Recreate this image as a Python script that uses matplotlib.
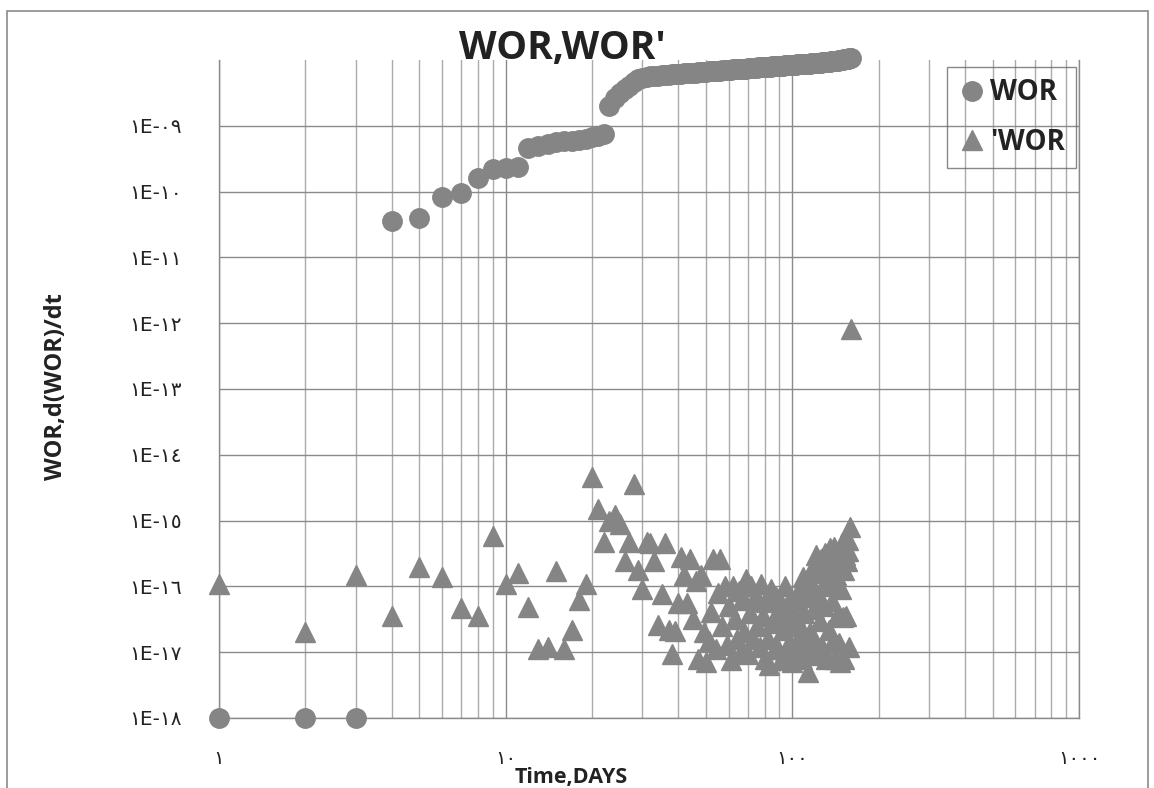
import matplotlib
matplotlib.use("Agg")
import matplotlib.pyplot as plt
from matplotlib.ticker import FixedLocator, FixedFormatter, NullFormatter
from matplotlib.patches import Rectangle

# ---- data ----
days = list(range(1, 161))

wor = [1e-18, 1e-18, 1e-18, 3.6e-11, 4.0e-11, 8.3e-11, 9.6e-11, 1.6e-10, 2.2e-10, 2.3e-10,
       2.4e-10, 4.6e-10, 5.0e-10, 5.3e-10, 5.7e-10, 5.9e-10, 5.9e-10, 6.1e-10, 6.4e-10, 6.8e-10,
       7.0e-10, 7.6e-10, 2.0e-9, 2.6e-9, 3.1e-9, 3.6e-9, 4.0e-9, 4.6e-9, 5.1e-9, 5.4e-9,
       5.6e-9, 5.7e-9, 5.8e-9, 5.8e-9, 5.9e-9, 6.0e-9, 6.0e-9, 6.1e-9, 6.1e-9, 6.2e-9,
       6.2e-9, 6.3e-9, 6.3e-9, 6.3e-9, 6.4e-9, 6.4e-9, 6.5e-9, 6.5e-9, 6.6e-9, 6.6e-9,
       6.7e-9, 6.7e-9, 6.8e-9, 6.8e-9, 6.9e-9, 6.9e-9, 7.0e-9, 7.0e-9, 7.0e-9, 7.1e-9,
       7.1e-9, 7.2e-9, 7.2e-9, 7.2e-9, 7.3e-9, 7.3e-9, 7.3e-9, 7.4e-9, 7.4e-9, 7.5e-9,
       7.5e-9, 7.5e-9, 7.6e-9, 7.6e-9, 7.6e-9, 7.7e-9, 7.7e-9, 7.7e-9, 7.8e-9, 7.8e-9,
       7.8e-9, 7.9e-9, 7.9e-9, 7.9e-9, 8.0e-9, 8.0e-9, 8.0e-9, 8.1e-9, 8.1e-9, 8.1e-9,
       8.2e-9, 8.2e-9, 8.2e-9, 8.3e-9, 8.3e-9, 8.3e-9, 8.3e-9, 8.4e-9, 8.4e-9, 8.4e-9,
       8.5e-9, 8.5e-9, 8.5e-9, 8.6e-9, 8.6e-9, 8.6e-9, 8.6e-9, 8.7e-9, 8.7e-9, 8.7e-9,
       8.7e-9, 8.8e-9, 8.8e-9, 8.8e-9, 8.8e-9, 8.9e-9, 8.9e-9, 8.9e-9, 8.9e-9, 9.0e-9,
       9.0e-9, 9.0e-9, 9.0e-9, 9.1e-9, 9.1e-9, 9.1e-9, 9.2e-9, 9.2e-9, 9.2e-9, 9.3e-9,
       9.3e-9, 9.3e-9, 9.4e-9, 9.4e-9, 9.4e-9, 9.5e-9, 9.5e-9, 9.6e-9, 9.6e-9, 9.6e-9,
       9.7e-9, 9.7e-9, 9.8e-9, 9.8e-9, 9.9e-9, 9.9e-9, 1.0e-8, 1.0e-8, 1.01e-8, 1.01e-8,
       1.02e-8, 1.02e-8, 1.03e-8, 1.03e-8, 1.04e-8, 1.05e-8, 1.05e-8, 1.06e-8, 1.07e-8, 1.08e-8]

wor_deriv = [1.1e-16, 2.0e-17, 1.5e-16, 3.5e-17, 2.0e-16, 1.4e-16, 4.7e-17, 3.6e-17, 5.9e-16, 1.1e-16,
             1.6e-16, 4.8e-17, 1.1e-17, 1.2e-17, 1.7e-16, 1.1e-17, 2.2e-17, 6.3e-17, 1.1e-16, 4.6e-15,
             1.5e-15, 4.8e-16, 1.0e-15, 1.2e-15, 9.0e-16, 2.4e-16, 4.7e-16, 3.6e-15, 1.8e-16, 9.0e-17,
             4.8e-16, 4.6e-16, 2.4e-16, 2.6e-17, 7.6e-17, 4.5e-16, 2.2e-17, 9.3e-18, 2.1e-17, 5.5e-17,
             2.8e-16, 1.5e-16, 5.5e-17, 2.6e-16, 3.2e-17, 1.2e-16, 8.0e-18, 1.5e-16, 2.0e-17, 7.0e-18,
             1.5e-17, 4.1e-17, 2.6e-16, 1.1e-17, 8.0e-17, 2.6e-16, 2.5e-17, 1.0e-16, 1.3e-17, 5.0e-17,
             7.5e-18, 1.0e-16, 3.2e-17, 1.6e-17, 8.5e-17, 1.0e-17, 6.3e-17, 2.0e-17, 1.3e-16, 9.3e-18,
             4.0e-17, 1.0e-16, 1.6e-17, 7.0e-17, 2.5e-17, 6.0e-17, 1.2e-17, 1.1e-16, 3.5e-17, 8.0e-18,
             5.7e-17, 1.6e-17, 6.3e-18, 9.0e-17, 2.8e-17, 3.2e-17, 1.1e-17, 7.0e-17, 1.1e-17, 4.5e-17,
             7.5e-18, 5.3e-17, 2.2e-17, 1.0e-16, 8.0e-18, 3.5e-17, 1.4e-17, 6.5e-17, 2.5e-17, 7.0e-18,
             1.2e-17, 3.5e-17, 9.0e-18, 6.0e-17, 1.5e-17, 2.5e-17, 1.0e-16, 8.0e-18, 1.4e-16, 4.0e-17,
             1.2e-17, 7.0e-17, 5.0e-18, 1.3e-16, 2.0e-17, 9.0e-17, 1.0e-17, 2.0e-16, 4.5e-17, 1.5e-17,
             3.0e-16, 7.0e-17, 9.0e-18, 1.6e-16, 3.0e-17, 2.6e-16, 1.2e-17, 1.0e-16, 5.0e-17, 3.2e-16,
             8.0e-18, 1.8e-16, 2.4e-16, 2.2e-17, 3.8e-16, 1.1e-16, 1.4e-17, 6.0e-17, 2.6e-16, 4.0e-16,
             8.0e-18, 1.5e-16, 3.5e-17, 3.0e-16, 1.4e-17, 2.2e-16, 7.0e-18, 9.0e-17, 4.5e-16, 3.4e-17,
             1.8e-16, 8.0e-18, 3.0e-16, 3.5e-17, 2.4e-16, 3.4e-16, 5.1e-16, 1.2e-17, 7.9e-16, 8.1e-13]

x_ticks = [1, 10, 100, 1000]
x_tick_labels = ["١", "١٠", "١٠٠", "١٠٠٠"]
y_ticks = [1e-18, 1e-17, 1e-16, 1e-15, 1e-14, 1e-13, 1e-12, 1e-11, 1e-10, 1e-9]
y_tick_labels = ["١E-١٨", "١E-١٧", "١E-١٦", "١E-١٥", "١E-١٤",
                 "١E-١٣", "١E-١٢", "١E-١١", "١E-١٠", "١E-٠٩"]

# ---- figure ----
W, H = 1154, 788
fig = plt.figure(figsize=(W / 100, H / 100), dpi=100)
ax = fig.add_axes([219 / W, 1 - 718 / H, 860 / W, 658 / H])

marker_grey = "#858585"
ax.plot(days, wor, "o", ms=14, color=marker_grey, label="WOR", zorder=3, clip_on=False)
ax.plot(days, wor_deriv, "^", ms=14.5, color=marker_grey, label="'WOR", zorder=3, clip_on=False)

ax.set_xscale("log")
ax.set_yscale("log")
ax.set_xlim(1, 1000)
ax.set_ylim(1e-18, 1e-8)

ax.xaxis.set_major_locator(FixedLocator(x_ticks))
ax.xaxis.set_major_formatter(FixedFormatter(x_tick_labels))
minor_x = [m * 10 ** d for d in range(3) for m in range(2, 10)]
ax.xaxis.set_minor_locator(FixedLocator(minor_x))
ax.xaxis.set_minor_formatter(NullFormatter())
ax.yaxis.set_major_locator(FixedLocator(y_ticks))
ax.yaxis.set_major_formatter(FixedFormatter(y_tick_labels))
ax.yaxis.set_minor_locator(FixedLocator([]))

ax.tick_params(which="both", length=0)
ax.tick_params(axis="y", pad=27, labelsize=14.5, labelcolor="#222222")
ax.tick_params(axis="x", pad=22, labelsize=14, labelcolor="#222222")
for lab in ax.get_xticklabels() + ax.get_yticklabels():
    lab.set_family(["DejaVu Sans"])

ax.grid(True, which="major", axis="both", color="#8a8a8a", lw=1.0)
ax.grid(True, which="minor", axis="x", color="#ababab", lw=1.0)
ax.set_axisbelow(True)
ax.spines["top"].set_visible(False)
for side in ["left", "bottom", "right"]:
    ax.spines[side].set_color("#8a8a8a")
    ax.spines[side].set_linewidth(1.0)

leg = ax.legend(loc="upper right", bbox_to_anchor=(0.9965, 0.989), frameon=True,
                fancybox=False, edgecolor="#6a6a6a", facecolor="none",
                prop={"family": "Open Sans", "weight": "bold", "size": 20},
                handlelength=1.0, handletextpad=0.15, borderpad=0.4,
                labelspacing=0.75, borderaxespad=0, numpoints=1)
leg.get_frame().set_linewidth(1.0)
for t in leg.get_texts():
    t.set_color("#222222")

fig.text(562 / W, 1 - 49 / H, "WOR,WOR'", ha="center", va="center",
         family="Open Sans", weight="bold", size=28, color="#222222")
fig.text(571 / W, 1 - 777 / H, "Time,DAYS", ha="center", va="center",
         family="Open Sans", weight="bold", size=15.5, color="#222222")
fig.text(56 / W, 1 - 387 / H, "WOR,d(WOR)/dt", ha="center", va="center", rotation=90,
         family="Open Sans", weight="bold", size=17, color="#222222")

# outer frame of the pasted chart
fig.patches.append(Rectangle((7 / W, -0.05), (1148 - 7) / W, 1 - 11 / H + 0.05,
                             transform=fig.transFigure, fill=False,
                             edgecolor="#8a8a8a", lw=1.2))

fig.savefig("out.png", dpi=100)
